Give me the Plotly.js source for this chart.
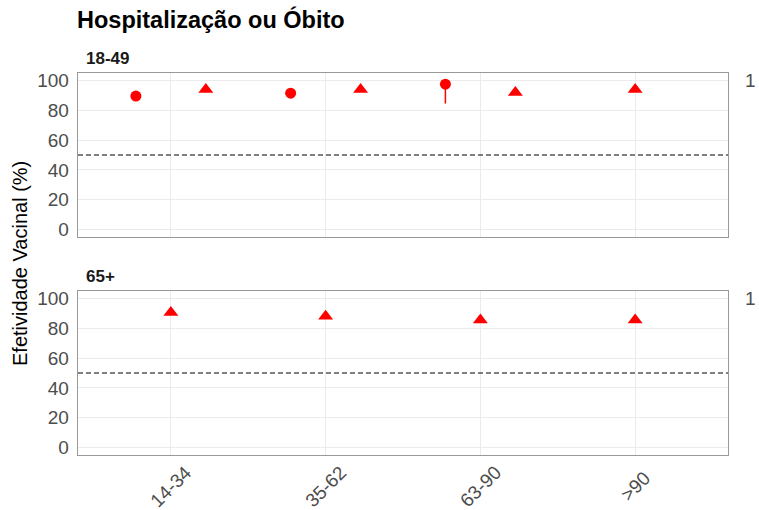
<!DOCTYPE html>
<html>
<head>
<meta charset="utf-8">
<script src="https://cdn.plot.ly/plotly-3.0.1.min.js"></script>
<style>html,body{margin:0;padding:0;background:#fff;}#chart{width:759px;height:510px;}</style>
</head>
<body>
<div id="chart"></div>
<script>
// ---- data ----
const categories = ["14-34", "35-62", "63-90", ">90"];
// panel 18-49: circle series (available for first three categories)
const young_circle_cats = ["14-34", "35-62", "63-90"];
const young_circle_est  = [89.5, 91.5, 97.5];
const young_circle_lo   = [87.5, 89.5, 84.5];
const young_circle_hi   = [91.5, 93.5, 99.5];
// panel 18-49: triangle series
const young_tri_cats = ["14-34", "35-62", "63-90", ">90"];
const young_tri_est  = [94, 94, 92, 94];
// panel 65+: triangle series
const old_tri_cats = ["14-34", "35-62", "63-90", ">90"];
const old_tri_est  = [90.5, 88, 85.5, 85.5];
const yTicks = [0, 20, 40, 60, 80, 100];
const refLine = 50;

// ---- dodge positions (ggplot position_dodge style) ----
const dodge = 0.226;
function pos(cat, series, panelSeries) {
  const idx = categories.indexOf(cat) + 1;
  const present = panelSeries.filter(s => s.cats.includes(cat));
  if (present.length < 2) return idx;
  const k = present.indexOf(series);
  return idx + (k === 0 ? -dodge : dodge);
}
const youngCircle = {cats: young_circle_cats};
const youngTri = {cats: young_tri_cats};
const youngSeries = [youngCircle, youngTri];
const oldTri = {cats: old_tri_cats};

const red = "#FF0000";
const FONT = "Liberation Sans, Arial, sans-serif";
const traces = [
  {
    x: young_circle_cats.map(c => pos(c, youngCircle, youngSeries)),
    y: young_circle_est,
    type: "scatter", mode: "markers", xaxis: "x", yaxis: "y",
    marker: {symbol: "circle", size: 11, color: red},
    error_y: {type: "data", symmetric: false,
      array: young_circle_hi.map((h, i) => h - young_circle_est[i]),
      arrayminus: young_circle_est.map((e, i) => e - young_circle_lo[i]),
      color: red, thickness: 1.5, width: 0},
    showlegend: false
  },
  {
    x: young_tri_cats.map(c => pos(c, youngTri, youngSeries)),
    y: young_tri_est,
    type: "scatter", mode: "markers", xaxis: "x", yaxis: "y",
    marker: {symbol: "triangle-up", size: 13, color: red},
    showlegend: false
  },
  {
    x: old_tri_cats.map(c => pos(c, oldTri, [oldTri])),
    y: old_tri_est,
    type: "scatter", mode: "markers", xaxis: "x2", yaxis: "y2",
    marker: {symbol: "triangle-up", size: 13, color: red},
    showlegend: false
  }
];

const tickFont = {family: FONT, size: 19, color: "#4D4D4D"};
const gridColor = "#EBEBEB";
const borderColor = "#999999";
const xBase = {
  range: [0.4, 4.6], tickvals: categories.map((c, i) => i + 1), ticktext: categories,
  showgrid: true, gridcolor: gridColor, gridwidth: 1, zeroline: false,
  showline: true, mirror: true, linecolor: borderColor, linewidth: 1.3,
  ticks: "", showticklabels: false
};
const yBase = {
  range: [-5, 105], tickvals: yTicks, showgrid: true, gridcolor: gridColor, gridwidth: 1,
  zeroline: false, showline: true, mirror: true, linecolor: borderColor, linewidth: 1.3,
  ticks: "", tickfont: tickFont, ticklabelstandoff: 4
};

// rotated category labels centred under each tick (as in the reference)
const xLabelAnnotations = categories.map((c, i) => ({
  text: c, xref: "x2", yref: "paper", x: i + 1, y: -(486 - 455) / 382,
  xanchor: "center", yanchor: "middle", textangle: -45, showarrow: false, font: tickFont
}));

const layout = {
  width: 759, height: 510,
  margin: {l: 78, r: 31, t: 73, b: 55},
  paper_bgcolor: "#fff", plot_bgcolor: "#fff",
  font: {family: FONT},
  title: {text: "<b>Hospitalização ou Óbito</b>", x: 77/759, xanchor: "left", xref: "container",
          y: 1 - 20/510, yanchor: "middle", yref: "container",
          font: {size: 23.5, color: "#000", family: FONT}},
  xaxis: Object.assign({}, xBase, {domain: [0, 1], anchor: "y"}),
  yaxis: Object.assign({}, yBase, {domain: [218/382, 1], anchor: "x"}),
  xaxis2: Object.assign({}, xBase, {domain: [0, 1], anchor: "y2"}),
  yaxis2: Object.assign({}, yBase, {domain: [0, 164/382], anchor: "x2"}),
  shapes: [
    {type: "line", xref: "x domain", yref: "y", x0: 0, x1: 1, y0: refLine, y1: refLine,
     line: {color: "#000", width: 1, dash: "5px,3px"}},
    {type: "line", xref: "x2 domain", yref: "y2", x0: 0, x1: 1, y0: refLine, y1: refLine,
     line: {color: "#000", width: 1, dash: "5px,3px"}}
  ],
  annotations: [
    {text: "<b>18-49</b>", xref: "paper", yref: "paper", x: 6/650, y: 1 + 15/382,
     xanchor: "left", yanchor: "middle", showarrow: false,
     font: {size: 17, color: "#1A1A1A", family: FONT}},
    {text: "<b>65+</b>", xref: "paper", yref: "paper", x: 6/650, y: 164/382 + 15/382,
     xanchor: "left", yanchor: "middle", showarrow: false,
     font: {size: 17, color: "#1A1A1A", family: FONT}},
    {text: "Efetividade Vacinal (%)", xref: "paper", yref: "paper", x: -(78-20)/650, y: 0.5,
     xanchor: "center", yanchor: "middle", textangle: -90, showarrow: false,
     font: {size: 20, color: "#000", family: FONT}},
    {text: "1", xref: "paper", yref: "y", x: (758-78)/650, y: 100, xanchor: "right", yanchor: "middle",
     showarrow: false, font: tickFont},
    {text: "1", xref: "paper", yref: "y2", x: (758-78)/650, y: 100, xanchor: "right", yanchor: "middle",
     showarrow: false, font: tickFont}
  ].concat(xLabelAnnotations)
};

Plotly.newPlot("chart", traces, layout, {displayModeBar: false, staticPlot: true});
</script>
</body>
</html>
